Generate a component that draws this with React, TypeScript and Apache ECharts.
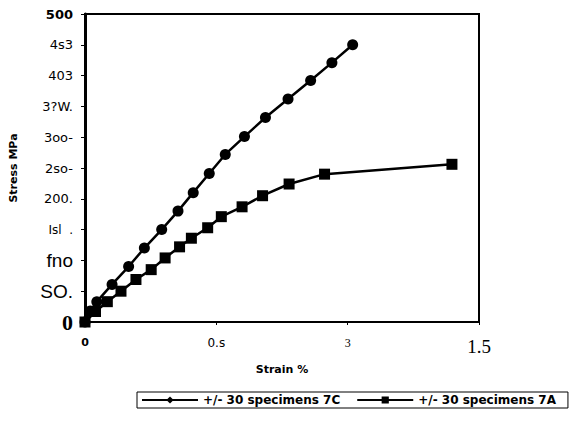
import React, { useEffect, useRef } from "react";
import * as echarts from "echarts";

const seriesNames = ["+/- 30 specimens 7C", "+/- 30 specimens 7A"];

const strain7C = [0, 0.02, 0.045, 0.103, 0.166, 0.226, 0.292, 0.354, 0.412, 0.473, 0.534, 0.607, 0.687, 0.773, 0.859, 0.94, 1.019];
const stress7C = [0, 18, 33, 61, 90, 120, 150, 180, 210, 241, 272, 301, 332, 362, 392, 421, 450];

const strain7A = [0, 0.04, 0.085, 0.137, 0.194, 0.252, 0.305, 0.36, 0.405, 0.467, 0.519, 0.598, 0.676, 0.777, 0.912, 1.397];
const stress7A = [0, 17, 33, 50, 69, 85, 104, 122, 136, 153, 171, 187, 205, 224, 240, 256];

// tick labels as printed (0..500 by 50)
const yTickLabels = ["0", "SO.", "fno", "Isl  .", "200.", "2so-", "3oo-", "3?W.", "403", "4s3", "500"];
const yTickStyles = ["zero", "big", "big", "isl", "s", "s", "s", "s", "s", "s", "b500"];

// x tick labels (0..1.5 by 0.5)
const xTickLabels = ["0", "0.s", "3", "1.5"];
const xTickStyles = ["xb", "xs", "xserif", "xbig"];

export default function App() {
  const ref = useRef<HTMLDivElement>(null);
  useEffect(() => {
    if (!ref.current) return;
    const chart = echarts.init(ref.current, null, { renderer: "svg" });
    const option = {
      animation: false,
      backgroundColor: "#ffffff",
      grid: {
        left: 82,
        top: 14,
        right: 99,
        bottom: 100,
        show: true,
        borderColor: "#000",
        borderWidth: 2,
        containLabel: false,
      },
      legend: {
        left: 137,
        top: 392,
        orient: "horizontal",
        data: seriesNames,
        borderColor: "#000",
        borderWidth: 1,
        borderRadius: 0,
        padding: [2, 12, 2, 4],
        itemGap: 16,
        itemWidth: 56,
        itemHeight: 9,
        textStyle: {
          fontFamily: "DejaVu Sans",
          fontWeight: "bold",
          fontSize: 12,
          color: "#000",
        },
      },
      xAxis: {
        type: "value",
        min: 0,
        max: 1.5,
        interval: 0.5,
        name: "Strain %",
        nameLocation: "middle",
        nameGap: 42,
        nameTextStyle: {
          fontFamily: "DejaVu Sans",
          fontWeight: "bold",
          fontSize: 11,
          color: "#000",
        },
        axisLine: { show: true, lineStyle: { color: "#000", width: 2 } },
        axisTick: { show: true, length: 3, lineStyle: { color: "#000" } },
        splitLine: { show: false },
        axisLabel: {
          margin: 15,
          color: "#000",
          formatter: (v: number) => {
            const i = Math.round(v / 0.5);
            return `{${xTickStyles[i]}|${xTickLabels[i]}}`;
          },
          rich: {
            xb: { fontFamily: "DejaVu Sans", fontWeight: "bold", fontSize: 11, color: "#000" },
            xs: { fontFamily: "DejaVu Sans", fontSize: 12, color: "#000" },
            xserif: { fontFamily: "Liberation Serif", fontSize: 12, color: "#000" },
            xbig: { fontFamily: "Liberation Serif", fontSize: 19, color: "#000" },
          },
        },
      },
      yAxis: {
        type: "value",
        min: 0,
        max: 500,
        interval: 50,
        name: "Stress MPa",
        nameLocation: "middle",
        nameGap: 66,
        nameTextStyle: {
          fontFamily: "DejaVu Sans",
          fontWeight: "bold",
          fontSize: 11,
          color: "#000",
        },
        axisLine: { show: true, lineStyle: { color: "#000", width: 3 } },
        axisTick: { show: true, length: 4, lineStyle: { color: "#000" } },
        splitLine: { show: false },
        axisLabel: {
          margin: 12,
          color: "#000",
          formatter: (v: number) => {
            const i = Math.round(v / 50);
            return `{${yTickStyles[i]}|${yTickLabels[i]}}`;
          },
          rich: {
            zero: { fontFamily: "Liberation Serif", fontWeight: "bold", fontSize: 22, color: "#000" },
            big: { fontFamily: "Liberation Sans", fontSize: 19, color: "#000" },
            isl: { fontFamily: "DejaVu Sans", fontSize: 12, color: "#000" },
            s: { fontFamily: "DejaVu Sans", fontSize: 13, color: "#000" },
            b500: { fontFamily: "DejaVu Sans", fontWeight: "bold", fontSize: 13, color: "#000" },
          },
        },
      },
      series: [
        {
          name: seriesNames[0],
          type: "line",
          symbol: "diamond",
          symbolSize: 11,
          data: strain7C.map((x, i) => ({ value: [x, stress7C[i]], symbol: "circle" })),
          lineStyle: { color: "#000", width: 2.5 },
          itemStyle: { color: "#000" },
        },
        {
          name: seriesNames[1],
          type: "line",
          symbol: "rect",
          symbolSize: 11,
          data: strain7A.map((x, i) => [x, stress7A[i]]),
          lineStyle: { color: "#000", width: 2.5 },
          itemStyle: { color: "#000" },
        },
      ],
    };
    chart.setOption(option as any);
    return () => chart.dispose();
  }, []);
  return <div ref={ref} style={{ width: 578, height: 422, position: "absolute", left: 0, top: 0 }} />;
}
